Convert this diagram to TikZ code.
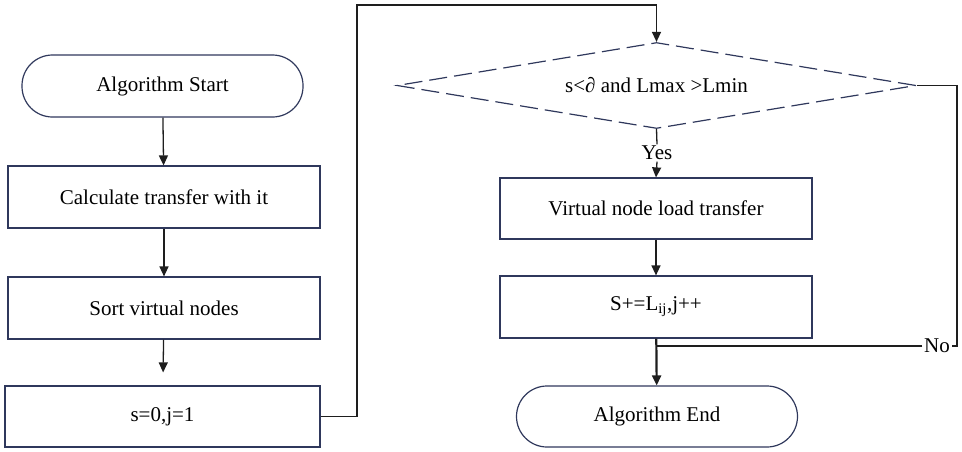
\documentclass[tikz,border=0pt]{standalone}
\usepackage{fontspec}
\setmainfont{Liberation Serif}
\usetikzlibrary{arrows.meta,shapes.geometric}
\definecolor{boxline}{RGB}{47,56,92}
\definecolor{wire}{RGB}{30,30,30}
\begin{document}
\begin{tikzpicture}[x=1pt,y=-1pt,
  every node/.style={font=\fontsize{21}{25}\selectfont},
  procbox/.style={draw=boxline,line width=1.2pt,minimum width=312pt,minimum height=62pt,inner sep=0pt},
  termbox/.style={draw=boxline,line width=1.2pt,minimum width=281pt,minimum height=62pt,inner sep=0pt,rounded corners=30.5pt},
  decision/.style={draw=boxline,line width=1.2pt,dash pattern=on 18pt off 7pt,diamond,aspect=6.1,minimum width=519pt,minimum height=86pt,inner sep=0pt},
  flow/.style={draw=wire,line width=1.3pt,-{Triangle[length=10pt,width=9pt]}},
  plain/.style={draw=wire,line width=1.3pt},
  tag/.style={inner sep=1.5pt}]
\useasboundingbox (0,0) rectangle (962,451);

% left column
\node[termbox] (start) at (162.5,86) {Algorithm Start};
\node[procbox] (calc) at (164,197) {Calculate transfer with it};
\node[procbox] (sort) at (164,308) {Sort virtual nodes};
\node[procbox,minimum width=315pt,minimum height=61pt] (init) at (162.5,416.5) {s=0,j=1};

% right column
\node[decision] (dia) at (656.5,85.5) {s<{\itshape ∂} and Lmax >Lmin};
\node[tag] (yes) at (657,153) {Yes};
\node[procbox,minimum height=61pt] (vnl) at (656,208.5) {Virtual node load transfer};
\node[procbox] (sinc) at (656,307) {S+=L\textsubscript{ij},j++};
\node[termbox,minimum height=61pt] (end) at (657,416.5) {Algorithm End};
\node[tag] (no) at (937,346) {No};

\coordinate (top) at (357,5);
\coordinate (right) at (957,346);
\coordinate (join) at (sinc.south |- right);

% connectors
\draw[flow] (start) -- (calc);
\draw[flow] (calc) -- (sort);
\draw[flow,shorten >=13pt] (sort) -- (init);
\draw[flow] (init.east) -| (top) -| (dia.north);
\draw[plain] (dia.south) -- (yes.north);
\draw[flow] (yes.south) -- (vnl.north);
\draw[flow] (vnl) -- (sinc);
\draw[flow,line width=2.2pt] (sinc) -- (end);
\draw[plain] (dia.east) -| (right) -- (no.east);
\draw[plain] (no.west) -- (join);
\end{tikzpicture}
\end{document}
